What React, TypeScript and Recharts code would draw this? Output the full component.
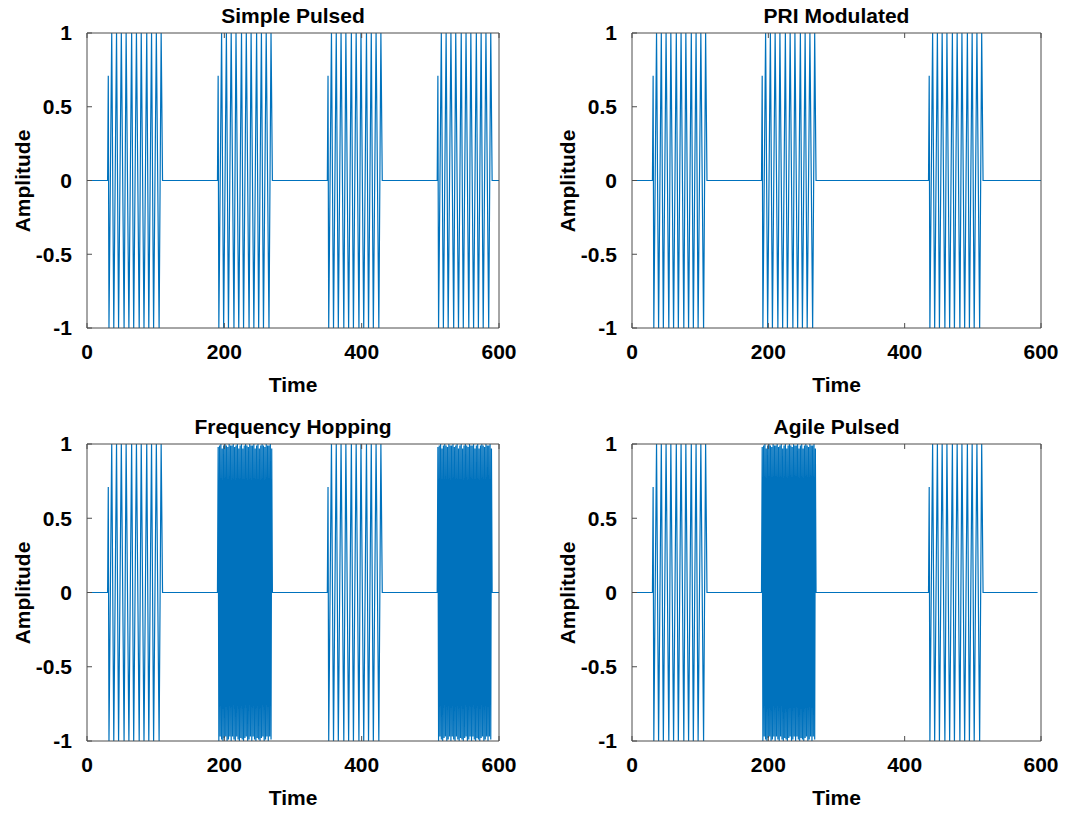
import { LineChart, Line, XAxis, YAxis } from "recharts";

const FONT = '"Liberation Sans", Arial, Helvetica, sans-serif';
const TRACE = "#0072BD";
const FRAME = "#4d4d4d";

const TIME_TICKS = [0, 200, 400, 600];
const AMP_TICKS = [-1, -0.5, 0, 0.5, 1];

// one slow pulse: [time from pulse start, amplitude] at each turn of the trace
const SLOW_PULSE: [number, number][] = [
  [0, 0], [1, 0.71], [2, -1], [6, 1], [9, -1], [13, 1], [16, -1], [20, 1],
  [24, -1], [27, 1], [31, -1], [35, 1], [38, -1], [42, 1], [46, -1], [49, 1],
  [53, -1], [57, 1], [60, -1], [64, 1], [67, -1], [71, 1], [75, -1], [78, 1],
  [80, 0],
];

// one fast (hopped) pulse: one amplitude per time unit from the pulse start
const FAST_PULSE = [
  0, 0.98, -1, 0.99, -0.97, 1, -0.99, 0.97, -1, 0.99,
  -0.98, 1, -0.97, 0.99, -1, 0.98, -0.99, 1, -0.97, 0.99,
  -1, 0.99, -0.97, 1, -0.99, 0.98, -1, 0.99, -0.97, 1,
  -0.99, 0.97, -1, 0.99, -0.98, 1, -0.99, 0.97, -1, 0.99,
  -0.98, 1, -0.97, 0.99, -1, 0.98, -0.99, 1, -0.97, 0.99,
  -1, 0.99, -0.97, 1, -0.99, 0.97, -1, 0.99, -0.98, 1,
  -0.99, 0.97, -1, 0.99, -0.98, 1, -0.97, 0.99, -1, 0.98,
  -0.99, 1, -0.97, 0.99, -1, 0.99, -0.97, 1, -0.99, 0.97,
  0,
];

const SIMPLE_STARTS = [30, 190, 350, 510];
const SIMPLE_KINDS = ["slow", "slow", "slow", "slow"];

const PRI_STARTS = [30, 190, 435];
const PRI_KINDS = ["slow", "slow", "slow"];

const HOP_STARTS = [30, 190, 350, 510];
const HOP_KINDS = ["slow", "fast", "slow", "fast"];

const AGILE_STARTS = [30, 190, 435];
const AGILE_KINDS = ["slow", "fast", "slow"];

type Pt = { t: number; y: number };

function buildTrace(starts: number[], kinds: string[], end: number): Pt[] {
  const pts: Pt[] = [{ t: 0, y: 0 }];
  starts.forEach((s, i) => {
    if (kinds[i] === "fast") {
      FAST_PULSE.forEach((y, k) => pts.push({ t: s + k, y }));
    } else {
      SLOW_PULSE.forEach(([dt, y]) => pts.push({ t: s + dt, y }));
    }
  });
  pts.push({ t: end, y: 0 });
  return pts;
}

type Box = { left: number; top: number; right: number; bottom: number };

const textStyle: React.CSSProperties = {
  position: "absolute",
  fontFamily: FONT,
  fontWeight: 700,
  fontSize: 21,
  lineHeight: 1,
  whiteSpace: "nowrap",
  color: "#000",
};

const tickStyle = { fill: "#000", fontSize: 21, fontWeight: 700, fontFamily: FONT };

function Panel({ title, data, box }: { title: string; data: Pt[]; box: Box }) {
  const w = box.right - box.left;
  const h = box.bottom - box.top;
  const cx = (box.left + box.right) / 2;
  const cy = (box.top + box.bottom) / 2;
  return (
    <>
      <div style={{ position: "absolute", left: box.left - 87, top: box.top - 40 }}>
        <LineChart
          width={w + 87 + 20}
          height={h + 40 + 60}
          data={data}
          margin={{ top: 39, right: 19, bottom: 0, left: 27 }}
        >
          <XAxis
            dataKey="t"
            type="number"
            domain={[0, 600]}
            ticks={TIME_TICKS}
            interval={0}
            height={60}
            tickSize={-5}
            tickMargin={21}
            stroke={FRAME}
            tick={tickStyle}
            allowDataOverflow
          />
          <XAxis
            xAxisId="top"
            orientation="top"
            dataKey="t"
            type="number"
            domain={[0, 600]}
            ticks={TIME_TICKS}
            interval={0}
            height={1}
            tickSize={-5}
            stroke={FRAME}
            tickFormatter={() => ""}
          />
          <YAxis
            type="number"
            domain={[-1, 1]}
            ticks={AMP_TICKS}
            interval={0}
            width={60}
            tickSize={-5}
            tickMargin={20}
            stroke={FRAME}
            tick={tickStyle}
          />
          <YAxis
            yAxisId="right"
            orientation="right"
            type="number"
            domain={[-1, 1]}
            ticks={AMP_TICKS}
            interval={0}
            width={1}
            tickSize={-5}
            stroke={FRAME}
            tickFormatter={() => ""}
          />
          <Line
            type="linear"
            dataKey="y"
            stroke={TRACE}
            strokeWidth={1.2}
            dot={false}
            isAnimationActive={false}
          />
        </LineChart>
      </div>
      <div style={{ ...textStyle, left: cx, top: box.top - 18, transform: "translate(-50%, -50%)" }}>
        {title}
      </div>
      <div style={{ ...textStyle, left: cx, top: box.bottom + 56, transform: "translate(-50%, -50%)" }}>
        Time
      </div>
      <div
        style={{
          ...textStyle,
          left: box.left - 65,
          top: cy,
          transform: "translate(-50%, -50%) rotate(-90deg)",
        }}
      >
        Amplitude
      </div>
    </>
  );
}

export default function App() {
  return (
    <div
      style={{
        position: "absolute",
        left: 0,
        top: 0,
        width: 1069,
        height: 814,
        background: "#fff",
        overflow: "hidden",
      }}
    >
      <Panel
        title="Simple Pulsed"
        data={buildTrace(SIMPLE_STARTS, SIMPLE_KINDS, 600)}
        box={{ left: 87, top: 33, right: 499, bottom: 328 }}
      />
      <Panel
        title="PRI Modulated"
        data={buildTrace(PRI_STARTS, PRI_KINDS, 600)}
        box={{ left: 632, top: 33, right: 1041, bottom: 328 }}
      />
      <Panel
        title="Frequency Hopping"
        data={buildTrace(HOP_STARTS, HOP_KINDS, 600)}
        box={{ left: 87, top: 444, right: 499, bottom: 741 }}
      />
      <Panel
        title="Agile Pulsed"
        data={buildTrace(AGILE_STARTS, AGILE_KINDS, 595)}
        box={{ left: 632, top: 444, right: 1041, bottom: 741 }}
      />
    </div>
  );
}
